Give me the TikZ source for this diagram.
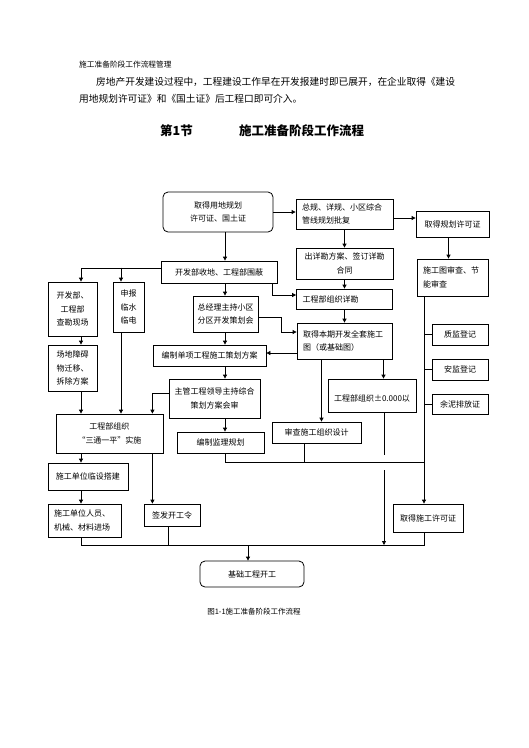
\documentclass[tikz,border=0pt]{standalone}
\usepackage{fontspec}
\setmainfont{Noto Sans CJK SC}
\usetikzlibrary{calc,arrows.meta,positioning}

\tikzset{
  kuang/.style={draw, line width=0.8pt, inner sep=2pt, align=center, font=\fontsize{8}{13.5}\selectfont},
  yuan/.style={kuang, rounded corners=5pt},
  zuo/.style={kuang, align=left, inner xsep=6pt},
  jian/.style={line width=0.8pt, -{Triangle[length=4pt,width=4pt]}},
  xian/.style={line width=0.8pt},
  wenzi/.style={anchor=west, inner sep=0pt},
}

\begin{document}
\begin{tikzpicture}[x=1pt,y=-1pt]
        \useasboundingbox (0,0) rectangle (529,748);

        % 正文与标题
        \node[wenzi, font=\fontsize{7.7}{9}\selectfont] (guanli) at (79,65) {施工准备阶段工作流程管理};
        \node[wenzi, font=\fontsize{9.7}{12}\selectfont] (duan1) at (96,82) {房地产开发建设过程中，工程建设工作早在开发报建时即已展开，在企业取得《建设};
        \node[wenzi, font=\fontsize{9.7}{12}\selectfont] (duan2) at (79,99) {用地规划许可证》和《国土证》后工程口即可介入。};
        \node[wenzi, font=\fontsize{12.5}{14}\selectfont\bfseries] (jie) at (160,131) {第1节};
        \node[wenzi, font=\fontsize{12.5}{14}\selectfont\bfseries] (ming) at (239,131) {施工准备阶段工作流程};

        % 竖线位置
        \coordinate (lc) at (81,0);
        \coordinate (ic) at (121,0);
        \coordinate (mc) at (225,0);
        \coordinate (rc) at (424,0);
        \coordinate (mid) at (0,462);
        \coordinate (base) at (248,545);

        \node[yuan, minimum width=110pt, minimum height=40pt] (ydgh) at (218,212) {取得用地规划\\许可证、国土证};
        \node[zuo, text width=85pt, minimum height=30pt] (pifu) at (344.5,214) {总规、详规、小区综合\\管线规划批复};
        \node[kuang, minimum width=73pt, minimum height=26pt] (ghxk) at (452.5,224) {取得规划许可证};
        \node[kuang, minimum width=97pt, minimum height=31pt] (xkfa) at (344.5,263.5) {出详勘方案、签订详勘\\合同};
        \node[zuo, text width=84pt, minimum height=20pt] (xk) at (344.5,299) {工程部组织详勘};
        \node[zuo, text width=59pt, minimum height=37pt] (sct) at (452.5,277.5) {施工图审查、节\\能审查};
        \node[kuang, minimum width=116pt, minimum height=22pt] (shoudi) at (219,272) {开发部收地、工程部围蔽};
        \node[kuang, minimum width=49pt, minimum height=54pt] (kc) at (72.5,309) {开发部、\\工程部\\查勘现场};
        \node[kuang, minimum width=31pt, minimum height=50pt] (lsd) at (128.5,307) {申报\\临水\\临电};
        \node[kuang, minimum width=65pt, minimum height=36pt] (chj) at (225.5,314) {总经理主持小区\\分区开发策划会};
        \node[zuo, text width=83pt, minimum height=36pt] (qtt) at (344.5,341) {取得本期开发全套施工\\图（或基础图）};
        \node[kuang, minimum width=113pt, minimum height=21pt] (chfa) at (209.5,355.5) {编制单项工程施工策划方案};
        \node[kuang, minimum width=91pt, minimum height=39pt] (hs) at (214.5,398.5) {主管工程领导主持综合\\策划方案会审};
        \node[kuang, minimum width=49pt, minimum height=46pt] (zhaai) at (72.5,368) {场地障碍\\物迁移、\\拆除方案};
        \node[kuang, minimum width=107pt, minimum height=39pt] (stp) at (109.5,433.5) {工程部组织\\“三通一平”实施};
        \node[kuang, minimum width=87pt, minimum height=21pt] (jl) at (220.5,442.5) {编制监理规划};
        \node[kuang, minimum width=89pt, minimum height=21pt] (shzz) at (316.5,432.5) {审查施工组织设计};
        \node[kuang, minimum width=88pt, minimum height=33pt] (zero) at (372,395.5) {\mbox{}\\工程部组织±0.000以};
        \node[kuang, minimum width=56pt, minimum height=21pt] (zj) at (460,334.5) {质监登记};
        \node[kuang, minimum width=56pt, minimum height=21pt] (aj) at (460,369.5) {安监登记};
        \node[kuang, minimum width=56pt, minimum height=20pt] (yn) at (460,404) {余泥排放证};
        \node[kuang, minimum width=80pt, minimum height=27pt] (lsh) at (88,476.5) {施工单位临设搭建};
        \node[kuang, minimum width=56pt, minimum height=22pt] (kgl) at (172,515) {签发开工令};
        \node[zuo, text width=61pt, minimum height=33pt] (jch) at (84.5,520.5) {施工单位人员、\\机械、材料进场};
        \node[kuang, minimum width=70pt, minimum height=28pt] (sgxk) at (428,518) {取得施工许可证};
        \node[yuan, minimum width=104pt, minimum height=26pt] (kaigong) at (252,574) {基础工程开工};

        \node[font=\fontsize{7.5}{9}\selectfont, inner sep=0pt] (tuming) at (254,612) {图1-1施工准备阶段工作流程};

        % 上部
        \draw[jian] (ydgh.east) -- (ydgh.east -| pifu.west);
        \draw[jian] ([yshift=-4pt]pifu.east) -- ([yshift=-4pt]pifu.east -| ghxk.west);
        \draw[jian] (pifu.south) -- (pifu.south |- xkfa.north);
        \draw[jian] (xkfa.south) -- (xkfa.south |- xk.north);
        \draw[jian] ([xshift=-4pt]ghxk.south) -- ([xshift=-4pt]ghxk.south |- sct.north);
        \draw[jian] (mc |- ydgh.south) -- (mc |- shoudi.north);
        \draw[jian] ([yshift=4pt]shoudi.west) -| (lc |- kc.north);
        \draw[jian] (ic |- shoudi.north) ++(0,7) -- (ic |- lsd.north);
        \draw[jian] ([xshift=-5pt]shoudi.south east) |- ([yshift=4pt]xk.west);
        \draw[jian] (mc |- shoudi.south) -- (mc |- chj.north);
        \draw[jian] ([yshift=-3pt]chj.east) -- ++(23,0) |- ([yshift=9pt]qtt.west);
        \draw[jian] (xk.south) -- (xk.south |- qtt.north);

        % 中部
        \draw[jian] (mc |- chj.south) -- (mc |- chfa.north);
        \draw[jian] ([yshift=-12pt]qtt.west) -- ([yshift=-12pt]qtt.west -| chfa.east);
        \draw[jian] (mc |- chfa.south) -- (mc |- hs.north);
        \draw[jian] ([yshift=5pt]hs.west) -| ([xshift=-11pt]stp.north east);
        \draw[jian] (mc |- hs.south) -- (mc |- jl.north);
        \draw[xian] (mc |- jl.south) |- (rc |- mid);
        \draw[xian] ([xshift=-12pt]shzz.south) -- ([xshift=-12pt]shzz.south |- mid);
        \draw[jian] ([xshift=-23pt]qtt.south) -- ([xshift=-23pt]qtt.south |- shzz.north);
        \draw[jian] ([xshift=39pt]qtt.south) -- ([xshift=39pt]qtt.south |- zero.north);
        % 交叉处断开
        \draw[xian] ([xshift=12pt]zero.south) -- ++(0,43);
        \draw[jian] ([xshift=12pt]zero.south) ++(0,58) -- ([xshift=12pt]zero.south |- base);

        % 右侧
        \draw[jian] (rc |- sct.south) -- (rc |- sgxk.north);
        \draw[xian] (rc |- zj.west) -- (zj.west);
        \draw[xian] (rc |- aj.west) -- (aj.west);
        \draw[xian] (rc |- yn.west) -- (yn.west);

        % 左侧
        \draw[jian] (lc |- kc.south) -- (lc |- zhaai.north);
        \draw[jian] (lc |- zhaai.south) -- (lc |- stp.north);
        \draw[jian] (ic |- lsd.south) -- (ic |- stp.north);
        \draw[jian] (lc |- stp.south) -- (lc |- lsh.north);
        \draw[jian] ([xshift=-11pt]stp.south east) -- ([xshift=-11pt]stp.south east |- kgl.north);
        \draw[jian] (lc |- lsh.south) -- (lc |- jch.north);

        % 底部汇合
        \draw[xian] (lc |- jch.south) |- (rc |- base) -- (rc |- sgxk.south);
        \draw[xian] ([xshift=-4pt]kgl.south) -- ([xshift=-4pt]kgl.south |- base);
        \draw[jian] (base) -- (base |- kaigong.north);
    \end{tikzpicture}
\end{document}
